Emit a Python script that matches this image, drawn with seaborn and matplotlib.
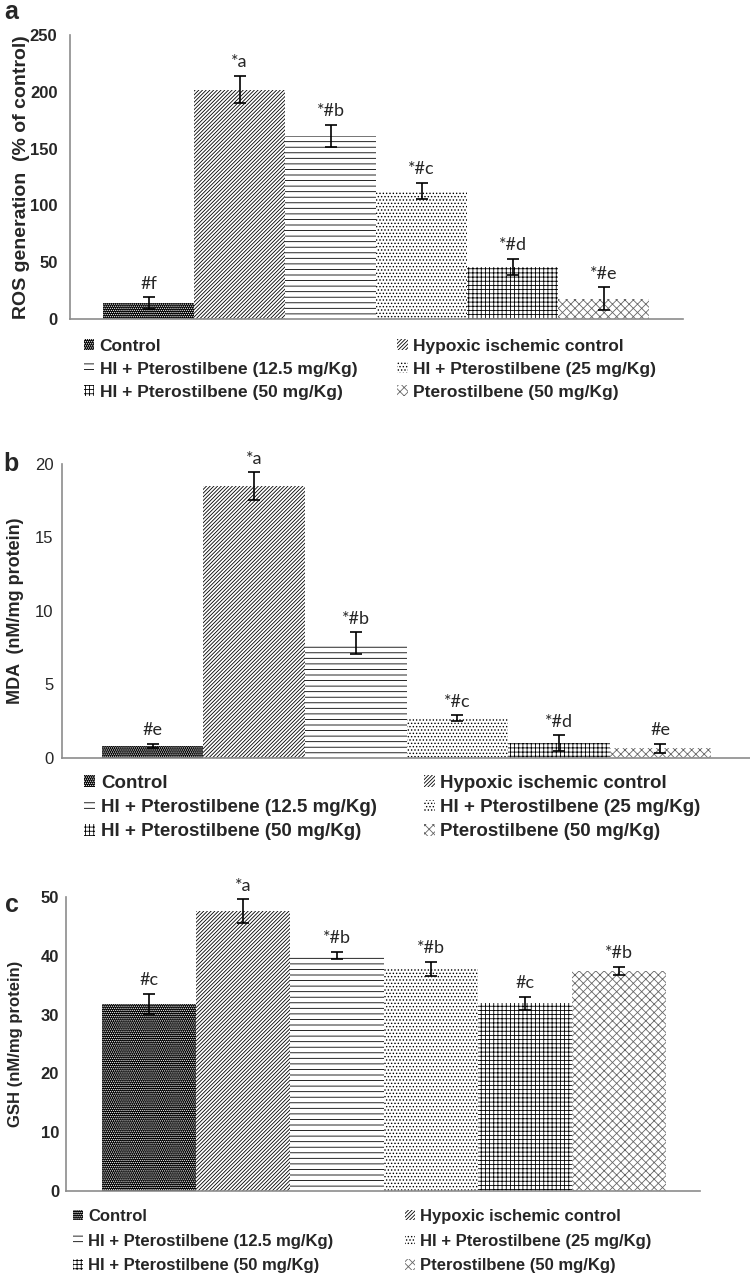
import matplotlib
matplotlib.use("Agg")
import matplotlib.pyplot as plt
import seaborn as sns

groups = ["Control", "Hypoxic ischemic control", "HI + Pterostilbene (12.5 mg/Kg)",
          "HI + Pterostilbene (25 mg/Kg)", "HI + Pterostilbene (50 mg/Kg)",
          "Pterostilbene (50 mg/Kg)"]

# panel a - ROS
ros = [14, 202, 161, 113, 46, 18]
ros_err = [5, 12, 10, 7, 7, 10]
ros_lab = ["#f", "*a", "*#b", "*#c", "*#d", "*#e"]

# panel b - MDA
mda = [0.8, 18.5, 7.8, 2.7, 1.0, 0.65]
mda_err = [0.15, 0.95, 0.75, 0.2, 0.55, 0.3]
mda_lab = ["#e", "*a", "*#b", "*#c", "*#d", "#e"]

# panel c - GSH
gsh = [31.8, 47.6, 40.1, 37.8, 31.9, 37.4]
gsh_err = [1.7, 2.0, 0.6, 1.2, 1.1, 0.7]
gsh_lab = ["#c", "*a", "*#b", "*#b", "#c", "*#b"]

hatches = ["." * 8, "/" * 9, "-" * 3, "." * 5, "+" * 4, "x" * 4]
faces = ["black", "white", "white", "white", "white", "white"]
edges = ["white", "black", "black", "black", "black", "#666666"]

sns.set_style("white")
plt.rcParams["font.family"] = ["Liberation Sans", "DejaVu Sans"]
plt.rcParams["hatch.linewidth"] = 0.6

W, H = 750, 1277
fig = plt.figure(figsize=(W / 100, H / 100), dpi=100)


def panel(px, vals, errs, labs, ymax, ystep, xlim, ylabel, ylab_x, ylab_fs, letter,
          letter_xy, tickbold, tickpad, leg_xy, leg_fs, rowsp, colspace):
    l, r, b, t = px
    ax = fig.add_axes([l / W, 1 - b / H, (r - l) / W, (b - t) / H])
    sns.barplot(x=groups, y=vals, ax=ax, width=1.0, color="white", saturation=1)
    for p, h, fc, ec in zip(ax.patches, hatches, faces, edges):
        p.set_facecolor(fc)
        p.set_edgecolor(ec)
        p.set_hatch(h)
        p.set_linewidth(0)
    ax.errorbar(range(6), vals, yerr=errs, fmt="none", ecolor="black",
                capsize=4, elinewidth=1.2, capthick=1.2)
    for i, (v, e, s) in enumerate(zip(vals, errs, labs)):
        ax.annotate(s, (i, v + e), xytext=(0, 4), textcoords="offset points",
                    ha="center", va="bottom", fontsize=13, family=["Lato", "DejaVu Sans"])
    ax.set_xlim(*xlim)
    ax.set_ylim(0, ymax)
    ax.set_yticks(range(0, ymax + 1, ystep))
    ax.set_xticks([])
    ax.set_xlabel("")
    ax.tick_params(axis="y", length=0, pad=tickpad, labelsize=12)
    for tl in ax.get_yticklabels():
        tl.set_fontweight("bold" if tickbold else "normal")
    for side in ["top", "right"]:
        ax.spines[side].set_visible(False)
    for side in ["left", "bottom"]:
        ax.spines[side].set_color("#8c8c8c")
        ax.spines[side].set_linewidth(1.2)
    fig.text(ylab_x / W, 1 - (t + b) / 2 / H, ylabel, rotation=90, ha="center",
             va="center", fontsize=ylab_fs, fontweight="bold")
    fig.text(letter_xy[0] / W, 1 - letter_xy[1] / H, letter, fontsize=18,
             fontweight="bold", va="top")
    order = [0, 2, 4, 1, 3, 5]
    hs = [ax.patches[i] for i in order]
    ls = [groups[i] for i in order]
    ax.legend(hs, ls, loc="upper left", ncol=2, frameon=False,
              bbox_to_anchor=(leg_xy[0] / W, 1 - leg_xy[1] / H),
              bbox_transform=fig.transFigure, borderpad=0, borderaxespad=0,
              handlelength=0.6, handleheight=0.6, handletextpad=0.3,
              labelspacing=rowsp, columnspacing=colspace,
              prop={"weight": "bold", "size": leg_fs})
    return ax


panel((70, 683, 319, 35), ros, ros_err, ros_lab, 250, 50, (-0.863, 5.873),
      "ROS generation  (% of control)", 22, 14, "a", (4, 0), True, 9,
      (84, 339), 12.5, 0.45, 2.3)
panel((62, 750, 758, 464), mda, mda_err, mda_lab, 20, 5, (-0.894, 5.884),
      "MDA  (nM/mg protein)", 16, 13, "b", (3, 452), False, 6,
      (84, 775), 13.5, 0.38, 2.5)
panel((66, 700, 1191, 897), gsh, gsh_err, gsh_lab, 50, 10, (-0.883, 5.862),
      "GSH (nM/mg protein)", 16, 12, "c", (5, 893), True, 5,
      (73, 1209), 12, 0.58, 4.3)

fig.savefig("out.png", dpi=100)
